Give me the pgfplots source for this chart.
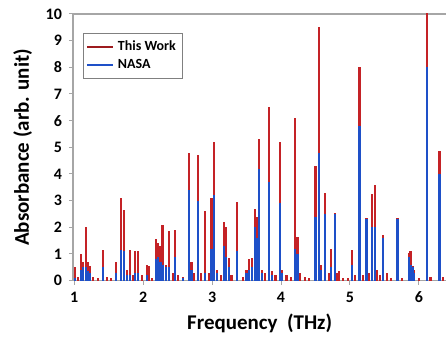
\documentclass[border=0pt]{standalone}
\usepackage{fontspec}
\setmainfont{Carlito}
\usepackage{pgfplots}
\pgfplotsset{compat=1.18}
\usetikzlibrary{calc}
\definecolor{twred}{RGB}{196,34,38}
\definecolor{nasablue}{RGB}{30,80,200}
\begin{document}
\begin{tikzpicture}
\begin{axis}[
 scale only axis, width=187pt, height=133.5pt,
 xmin=0.98, xmax=6.4, ymin=0, ymax=10,
 axis x line*=box, axis y line*=left,
 xtick={1,...,6}, ytick={0,...,10}, xtick pos=bottom,
 tick align=outside, major tick length=2pt,
 axis line style={gray!70, line width=0.6pt},
 tick style={gray!70, line width=0.5pt},
 ticklabel style={font=\bfseries\fontsize{8}{9}\selectfont},
 /pgf/number format/assume math mode=true,
 xlabel={Frequency\ \ (THz)}, ylabel={Absorbance (arb. unit)},
 label style={font=\bfseries\fontsize{10.5}{12}\selectfont},
 xlabel style={yshift=1pt},
 legend style={at={(0.027,0.929)}, anchor=north west, draw=gray, font=\bfseries\fontsize{7}{8}\selectfont, inner sep=1.5pt, row sep=-1pt},
 legend cell align=left,
 clip=true,
]
\addplot[ycomb, twred, line width=1.1pt,
 legend image code/.code={\draw[twred!80!black, line width=1pt] (0cm,0cm) -- (0.45cm,0cm);}]
 coordinates {
(1.01,0.52)(1.05,0.15)(1.10,0.98)(1.13,0.7)(1.17,2.0)(1.20,0.68)(1.23,0.55)(1.27,0.15)(1.35,0.1)
(1.42,1.13)(1.47,0.15)(1.53,0.1)(1.60,0.68)(1.68,3.1)(1.72,2.65)(1.77,0.4)(1.81,1.15)(1.85,0.2)
(1.88,1.1)(1.93,1.1)(1.98,0.2)(2.05,0.6)(2.08,0.55)(2.13,0.1)(2.19,1.55)(2.22,1.4)(2.25,1.3)
(2.28,2.1)(2.33,0.6)(2.38,1.85)(2.43,0.3)(2.46,1.9)(2.51,0.2)(2.58,0.15)(2.66,4.8)(2.70,0.7)
(2.74,0.3)(2.79,4.7)(2.84,0.3)(2.90,2.6)(2.95,0.3)(2.99,3.1)(3.03,5.2)(3.07,0.4)(3.13,0.2)
(3.17,2.2)(3.20,2.0)(3.24,0.85)(3.28,0.2)(3.36,2.95)(3.45,0.15)(3.50,0.4)(3.54,0.8)(3.58,0.85)
(3.62,2.7)(3.65,2.4)(3.68,5.3)(3.72,0.4)(3.77,0.3)(3.82,6.5)(3.87,0.35)(3.92,0.2)(3.99,5.2)
(4.02,0.4)(4.08,0.2)(4.14,0.15)(4.20,6.1)(4.24,1.65)(4.28,0.3)(4.35,0.15)(4.41,0.1)(4.50,4.3)
(4.55,9.5)(4.58,0.6)(4.64,3.3)(4.70,0.3)(4.73,1.2)(4.78,2.55)(4.82,0.3)(4.84,0.35)(4.90,0.1)
(4.97,0.1)(5.03,1.15)(5.07,0.2)(5.14,8.0)(5.19,0.2)(5.24,2.35)(5.28,0.3)(5.32,3.25)(5.36,3.6)
(5.39,0.4)(5.44,0.2)(5.48,1.7)(5.54,0.3)(5.60,0.1)(5.69,2.35)(5.76,0.1)(5.86,1.05)(5.88,1.1)
(5.91,0.55)(5.93,0.4)(6.00,0.1)(6.12,10.5)(6.17,0.15)(6.30,4.85)(6.35,0.15)
};
\addlegendentry{This Work}
\addplot[ycomb, nasablue, line width=1.1pt,
 legend image code/.code={\draw[nasablue, line width=1pt] (0cm,0cm) -- (0.45cm,0cm);}]
 coordinates {
(1.01,0.1)(1.10,0.4)(1.13,0.5)(1.17,0.5)(1.20,0.35)(1.23,0.3)(1.42,0.5)(1.60,0.3)(1.68,1.15)
(1.72,1.1)(1.77,0.2)(1.81,0.2)(1.88,0.3)(1.93,0.3)(2.05,0.2)(2.19,0.8)(2.22,0.9)(2.25,0.7)
(2.28,0.6)(2.33,0.5)(2.38,0.5)(2.46,0.9)(2.58,0.1)(2.66,3.4)(2.70,0.4)(2.79,3.0)(2.90,0.3)
(2.99,1.2)(3.03,3.2)(3.07,0.3)(3.17,1.3)(3.20,0.9)(3.24,0.5)(3.36,1.1)(3.50,0.3)(3.54,0.4)
(3.58,0.5)(3.62,2.0)(3.65,1.6)(3.68,4.2)(3.72,0.3)(3.82,3.7)(3.87,0.2)(3.99,2.9)(4.02,0.3)
(4.20,1.2)(4.24,1.0)(4.50,2.4)(4.55,4.8)(4.58,0.4)(4.64,2.5)(4.73,0.5)(4.78,2.5)(5.03,0.6)
(5.14,5.8)(5.24,2.3)(5.32,2.0)(5.36,2.0)(5.48,1.6)(5.69,2.3)(5.86,0.9)(5.88,0.6)(5.91,0.5)
(5.93,0.3)(6.12,8.0)(6.30,4.0)
};
\addlegendentry{NASA}
\end{axis}
\useasboundingbox ($(current axis.south west)+(-36.5pt,-28pt)$) rectangle ($(current axis.north east)+(0pt,7pt)$);
\end{tikzpicture}
\end{document}
